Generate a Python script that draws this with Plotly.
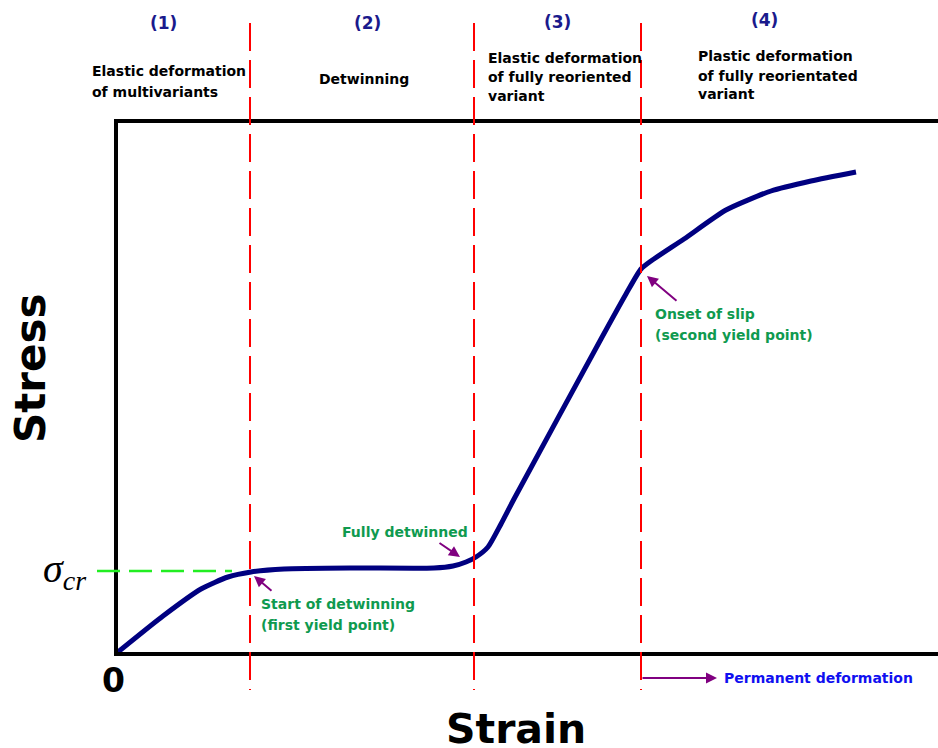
import plotly.graph_objects as go

# ---------------- data ----------------
strain = [0.0, 0.45, 0.83, 1.10, 1.33, 1.66, 2.33, 3.16, 3.35, 3.48, 3.58,
          3.70, 3.83, 3.96, 4.83, 5.08, 5.23, 5.33, 5.66, 6.08, 6.53, 6.93, 7.38]
stress = [0.0, 0.36, 0.63, 0.75, 0.80, 0.83, 0.84, 0.84, 0.86, 0.90, 0.95,
          1.05, 1.28, 1.53, 3.13, 3.58, 3.83, 3.91, 4.13, 4.42, 4.61, 4.71, 4.80]
stage_bounds = [1.32, 3.56, 5.23]
sigma_cr = 0.81
stage_numbers = ["(1)", "(2)", "(3)", "(4)"]
stage_texts = [
    ["Elastic deformation", "of multivariants"],
    ["Detwinning"],
    ["Elastic deformation", "of fully reoriented", "variant"],
    ["Plastic deformation", "of fully reorientated", "variant"],
]

# ---------------- layout geometry ----------------
W, H = 938, 748
L, R, T, B = 118, 0, 123, 96
PW, PH = W - L - R, H - T - B


def px(x):
    return (x - L) / PW


def py(y):
    return (H - B - y) / PH


BOLD = "DejaVu Sans"
NAVY = "#1a1a8c"
GREEN = "#0f9a4f"
PURPLE = "#800080"

fig = go.Figure()
fig.add_trace(go.Scatter(
    x=strain, y=stress, mode="lines",
    line=dict(color="#000080", width=5, shape="spline", smoothing=0.6),
    hoverinfo="skip", showlegend=False,
))

shapes = []
for xb in stage_bounds:
    shapes.append(dict(type="line", xref="x", yref="paper", x0=xb, x1=xb,
                       y0=py(23), y1=py(690),
                       line=dict(color="#ff0000", width=2, dash="28px,9px")))
shapes.append(dict(type="line", xref="paper", yref="y", x0=px(97), x1=px(232),
                   y0=sigma_cr, y1=sigma_cr,
                   line=dict(color="#22ee22", width=2.5, dash="23px,9px")))

ann = []
# stage numbers
for t, (cx, cy) in zip(stage_numbers, [(163, 23), (367, 23), (557, 22), (764, 20)]):
    ann.append(dict(text=t, xref="paper", yref="paper", x=px(cx), y=py(cy),
                    xanchor="center", yanchor="middle", showarrow=False,
                    font=dict(family=BOLD, size=17, color=NAVY, weight="bold")))

# stage descriptions
desc_pos = [
    (90, [70.5, 92], "left"),
    (364, [79], "center"),
    (486, [57.5, 77, 96], "left"),
    (696, [56, 76, 94], "left"),
]
for lines, (lx, ys, anchor) in zip(stage_texts, desc_pos):
    for t, yy in zip(lines, ys):
        ann.append(dict(text=t, xref="paper", yref="paper", x=px(lx), y=py(yy),
                        xanchor=anchor, yanchor="middle", showarrow=False,
                        font=dict(family=BOLD, size=14, color="black", weight="bold")))

# green notes
for t, lx, yy in [("Fully detwinned", 340, 531.5),
                  ("Start of detwinning", 259, 603.5),
                  ("(first yield point)", 259, 624.5),
                  ("Onset of slip", 653, 313.5),
                  ("(second yield point)", 653, 334.5)]:
    ann.append(dict(text=t, xref="paper", yref="paper", x=px(lx), y=py(yy),
                    xanchor="left", yanchor="middle", showarrow=False,
                    font=dict(family=BOLD, size=14, color=GREEN, weight="bold")))

# arrows pointing to curve
for hx, hy, tx, ty in [(1.36, 0.76, 1.55, 0.60),
                       (3.42, 0.95, 3.20, 1.10),
                       (5.29, 3.76, 5.60, 3.50)]:
    ann.append(dict(text="", x=hx, y=hy, ax=tx, ay=ty, xref="x", yref="y",
                    axref="x", ayref="y", showarrow=True, arrowhead=2,
                    arrowsize=1.1, arrowwidth=2, arrowcolor=PURPLE, standoff=0))

# permanent deformation arrow
ann.append(dict(text="", x=5.99, y=py(678), xref="x", yref="paper",
                ax=stage_bounds[2], ay=0, axref="x", ayref="pixel",
                showarrow=True, arrowhead=2, arrowsize=1.1, arrowwidth=2,
                arrowcolor=PURPLE, standoff=0))
ann.append(dict(text="Permanent deformation", xref="paper", yref="paper",
                x=px(722), y=py(678), xanchor="left", yanchor="middle",
                showarrow=False,
                font=dict(family=BOLD, size=14, color="#1010f0", weight="bold")))

# sigma_cr label
ann.append(dict(text="<i>σ<sub>cr</sub></i>", xref="paper", yref="y",
                x=px(88), y=sigma_cr, xanchor="right", yanchor="middle",
                yshift=0, showarrow=False,
                font=dict(family="Liberation Serif", size=40, color="black")))

# origin
ann.append(dict(text="0", xref="paper", yref="paper", x=px(113), y=py(680),
                xanchor="center", yanchor="middle", showarrow=False,
                font=dict(family=BOLD, size=33, color="black", weight="bold")))

# axis titles
ann.append(dict(text="Strain", xref="paper", yref="paper", x=px(516), y=py(729),
                xanchor="center", yanchor="middle", showarrow=False,
                font=dict(family=BOLD, size=41, color="black", weight="bold")))
ann.append(dict(text="Stress", xref="paper", yref="paper", x=px(30), y=py(368),
                xanchor="center", yanchor="middle", showarrow=False, textangle=-90,
                font=dict(family=BOLD, size=42, color="black", weight="bold")))

fig.update_layout(
    width=W, height=H,
    margin=dict(l=L, r=R, t=T, b=B, pad=0),
    paper_bgcolor="white", plot_bgcolor="white",
    xaxis=dict(range=[0, PW / 100], showgrid=False, zeroline=False,
               showticklabels=False, ticks="", showline=True, linewidth=4,
               linecolor="black", mirror=True, fixedrange=True),
    yaxis=dict(range=[0, PH / 100], showgrid=False, zeroline=False,
               showticklabels=False, ticks="", showline=True, linewidth=4,
               linecolor="black", mirror=False, fixedrange=True),
    shapes=shapes, annotations=ann, showlegend=False,
)

fig.write_html(
    "out.html",
    config={"displayModeBar": False},
    post_script="document.body.style.margin='0';document.body.style.overflow='hidden';",
)
